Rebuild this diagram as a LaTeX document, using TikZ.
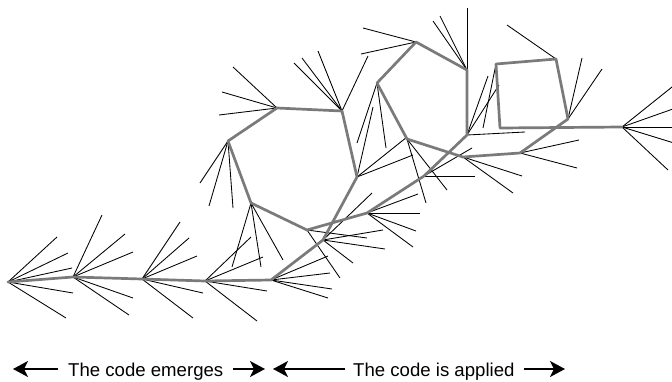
\documentclass[tikz,border=0pt]{standalone}
\usepackage{fontspec}
\setmainfont{Liberation Sans}
\usetikzlibrary{arrows.meta}
\definecolor{chain}{RGB}{122,122,122}
\tikzset{
  hubray/.style={draw=black,line width=0.85pt},
  chainline/.style={draw=chain,line width=2.7pt,line join=round,line cap=round},
  lbl/.style={inner sep=0pt,anchor=base west,font=\fontsize{18.6}{22}\selectfont},
  arr/.style={line width=1.6pt,-{Stealth[length=15pt,width=16pt,inset=4pt]}}
}
\newcommand\hubrays[2]{\foreach \xx/\yy [count=\i] in {#2} {\coordinate (#1r\i) at (\xx,\yy); \path[hubray] (#1) -- (#1r\i);}}
\begin{document}
\begin{tikzpicture}[x=1pt,y=-1pt]
\useasboundingbox (0,0) rectangle (672,381);
% hubs
\coordinate (A1) at (8,282);
\coordinate (A2) at (73,277);
\coordinate (A3) at (142,279);
\coordinate (A4) at (205,281);
\coordinate (A5) at (271,280);
\coordinate (C2) at (323,240);
\coordinate (D1) at (357,177);
\coordinate (B2) at (342,111);
\coordinate (B1) at (277,108);
\coordinate (B0) at (228,141);
\coordinate (C0) at (251,203);
\coordinate (C1) at (307,230);
\coordinate (M1) at (367,213);
\coordinate (N1) at (424,176);
\coordinate (K1) at (467,135);
\coordinate (D4) at (467,70);
\coordinate (D3) at (416,42);
\coordinate (D2) at (377,83);
\coordinate (E1) at (407,139);
\coordinate (E2) at (463,157);
\coordinate (F1) at (520,153);
\coordinate (S4) at (568,119);
\coordinate (S3) at (556,59);
\coordinate (S2) at (496,64);
\coordinate (S1) at (500,128);
\coordinate (H) at (622,127);
% rays
\hubrays{A1}{57/237,68/253,72/268,73/293,66/318}
\hubrays{A2}{102/215,125/234,133/252,133/298,129/315}
\hubrays{A3}{180/222,189/238,197/256,203/293,193/318}
\hubrays{A4}{251/237,263/257,267/291,257/321}
\hubrays{A5}{328/256,330/273,332/289,328/298}
\hubrays{C2}{372/193,383/230,385/249,353/263}
\hubrays{D1}{373/107,407/137,413/155}
\hubrays{B2}{294/63,302/58,318/51,368/56}
\hubrays{B1}{233/67,222/92,219/115}
\hubrays{B0}{200/183,209/206,233/208}
\hubrays{C0}{232/267,261/267,283/260}
\hubrays{C1}{340/278,367/238}
\hubrays{M1}{418/194,420/213,416/231,413/247}
\hubrays{N1}{475/176,472/148}
\hubrays{K1}{488/76,499/85,525/132}
\hubrays{D4}{467/8,433/21,440/16}
\hubrays{D3}{363/28,361/54}
\hubrays{D2}{357/143,386/148}
\hubrays{E1}{426/203,447/190}
\hubrays{E2}{522/176,513/193}
\hubrays{F1}{579/140,577/168}
\hubrays{S4}{582/58,602/69}
\hubrays{S3}{507/25}
\hubrays{S2}{483/128}
\hubrays{H}{687/75,687/104,687/127,687/147,668/170}
% chain
\path[chainline] (A1) -- (A2) -- (A3) -- (A4) -- (A5) -- (C2) -- (D1) -- (B2) -- (B1) -- (B0) -- (C0) -- (C1) -- (M1) -- (N1) -- (K1) -- (D4) -- (D3) -- (D2) -- (E1) -- (E2) -- (F1) -- (S4) -- (S3) -- (S2) -- (S1) -- (H);
% labels
\node[lbl] (t1) at (68,376) {The code emerges};
\node[lbl] (t2) at (353,376) {The code is applied};
\coordinate (l1a) at (58,369); \coordinate (l1b) at (13,369);
\coordinate (r1a) at (233,369); \coordinate (r1b) at (265,369);
\coordinate (l2a) at (345,369); \coordinate (l2b) at (273,369);
\coordinate (r2a) at (524,369); \coordinate (r2b) at (565,369);
\draw[arr] (l1a) -- (l1b);
\draw[arr] (r1a) -- (r1b);
\draw[arr] (l2a) -- (l2b);
\draw[arr] (r2a) -- (r2b);
\end{tikzpicture}
\end{document}
